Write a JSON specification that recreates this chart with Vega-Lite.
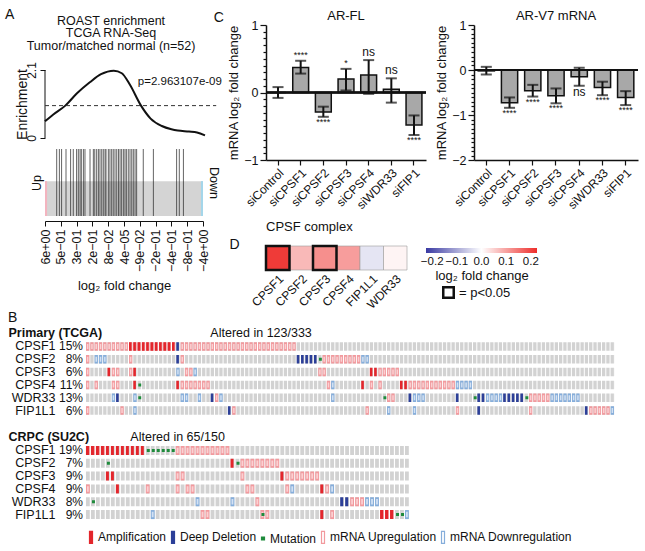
{
  "$schema": "https://vega.github.io/schema/vega-lite/v6.json",
  "background": "white",
  "padding": {"left": 5, "top": 7, "right": 0, "bottom": 0},
  "config": {
    "font": "Liberation Sans",
    "view": {"stroke": null},
    "axis": {"labelFont": "Liberation Sans", "titleFont": "Liberation Sans", "labelColor": "#111", "titleColor": "#111", "domainColor": "#111", "tickColor": "#111", "grid": false, "titleFontWeight": "normal", "labelFontSize": 12, "titleFontSize": 13},
    "title": {"font": "Liberation Sans", "fontWeight": "normal", "color": "#111"},
    "legend": {"labelFont": "Liberation Sans", "titleFont": "Liberation Sans", "labelColor": "#111", "titleColor": "#111", "titleFontWeight": "normal"},
    "text": {"font": "Liberation Sans", "color": "#111"}
  },
  "vconcat": [
    {
      "concat": [
        {
          "title": {"text": "A", "anchor": "start", "frame": "bounds", "fontSize": 14, "offset": -7, "dx": -10},
          "vconcat": [
            {
              "width": 160, "height": 113,
              "title": {"text": ["ROAST enrichment", "TCGA RNA-Seq", "Tumor/matched normal (n=52)"], "fontSize": 12.5, "lineHeight": 12.5, "anchor": "middle", "dx": -14, "offset": -27},
              "layer": [
                {
                  "data": {"values": [
                    {"rank": 0, "enrichment": 0.52}, {"rank": 0.5, "enrichment": 0.72}, {"rank": 1.27, "enrichment": 1.0},
                    {"rank": 2.0, "enrichment": 1.38}, {"rank": 2.8, "enrichment": 1.72}, {"rank": 3.5, "enrichment": 1.97},
                    {"rank": 4.3, "enrichment": 2.08}, {"rank": 4.8, "enrichment": 2.0}, {"rank": 5.3, "enrichment": 1.65},
                    {"rank": 6.0, "enrichment": 1.0}, {"rank": 6.6, "enrichment": 0.6}, {"rank": 7.3, "enrichment": 0.37},
                    {"rank": 7.9, "enrichment": 0.27}, {"rank": 8.3, "enrichment": 0.23}, {"rank": 9.0, "enrichment": 0.2},
                    {"rank": 9.5, "enrichment": 0.17}, {"rank": 10.0, "enrichment": 0.08}
                  ]},
                  "mark": {"type": "line", "color": "#111", "strokeWidth": 2, "interpolate": "monotone", "clip": false},
                  "encoding": {
                    "x": {"field": "rank", "type": "quantitative", "scale": {"domain": [0, 10]}, "axis": null},
                    "y": {"field": "enrichment", "type": "quantitative", "scale": {"domain": [0, 3.49]}, "axis": {"values": [0, 2.1], "format": ".1~f", "labelAngle": 270, "domain": false, "title": "Enrichment", "titleFontSize": 14, "tickSize": 5, "labelPadding": 2, "titleX": -23, "titleY": 79, "titleBaseline": "middle", "titleAlign": "center"}}
                  }
                },
                {
                  "data": {"values": [{"axisFrom": 0, "axisTo": 2.1}]},
                  "mark": {"type": "rule", "color": "#111", "strokeWidth": 1},
                  "encoding": {
                    "x": {"datum": 0, "type": "quantitative", "scale": {"domain": [0, 10]}, "axis": null},
                    "y": {"field": "axisFrom", "type": "quantitative", "scale": {"domain": [0, 3.49]}, "axis": {"values": [0, 2.1], "format": ".1~f", "labelAngle": 270, "domain": false, "title": "Enrichment", "titleFontSize": 14, "tickSize": 5, "labelPadding": 2, "titleX": -23, "titleY": 79, "titleBaseline": "middle", "titleAlign": "center"}},
                    "y2": {"field": "axisTo"}
                  }
                },
                {
                  "data": {"values": [{"threshold": 1}]},
                  "mark": {"type": "rule", "color": "#333", "strokeDash": [4, 3], "strokeWidth": 1, "clip": false},
                  "encoding": {
                    "x": {"datum": 0, "type": "quantitative", "scale": {"domain": [0, 10]}, "axis": null},
                    "x2": {"datum": 10.7},
                    "y": {"field": "threshold", "type": "quantitative", "scale": {"domain": [0, 3.49]}, "axis": {"values": [0, 2.1], "format": ".1~f", "labelAngle": 270, "domain": false, "title": "Enrichment", "titleFontSize": 14, "tickSize": 5, "labelPadding": 2, "titleX": -23, "titleY": 79, "titleBaseline": "middle", "titleAlign": "center"}}
                  }
                },
                {
                  "data": {"values": [{"label": "p=2.963107e-09", "rank": 5.8, "enrichment": 1.72}]},
                  "mark": {"type": "text", "align": "left", "fontSize": 11.5},
                  "encoding": {
                    "x": {"field": "rank", "type": "quantitative", "scale": {"domain": [0, 10]}, "axis": null},
                    "y": {"field": "enrichment", "type": "quantitative", "scale": {"domain": [0, 3.49]}, "axis": {"values": [0, 2.1], "format": ".1~f", "labelAngle": 270, "domain": false, "title": "Enrichment", "titleFontSize": 14, "tickSize": 5, "labelPadding": 2, "titleX": -23, "titleY": 79, "titleBaseline": "middle", "titleAlign": "center"}},
                    "text": {"field": "label"}
                  }
                }
              ]
            },
            {
              "width": 158, "height": 67,
              "layer": [
                {
                  "data": {"values": [{"part": "band", "start": 0, "end": 10}, {"part": "up", "start": 0, "end": 0.13}, {"part": "down", "start": 9.87, "end": 10}]},
                  "mark": {"type": "rect"},
                  "encoding": {
                    "x": {"field": "start", "type": "quantitative", "scale": {"domain": [0, 10]}, "axis": {"values": [0, 1, 2, 3, 4, 5, 6, 7, 8, 9, 10], "labelExpr": "['6e+00','5e−01','3e−01','2e−01','8e−02','4e−05','−9e−02','−2e−01','−4e−01','−8e−01','−4e+00'][datum.value]", "labelAngle": 270, "offset": 5, "tickSize": 5, "labelPadding": 3, "labelFlush": false, "labelFontSize": 12.5, "title": "log₂ fold change", "titleFontSize": 13, "titlePadding": 8}},
                    "x2": {"field": "end"},
                    "y": {"datum": 0, "type": "quantitative", "scale": {"domain": [0, 1]}, "axis": {"orient": "right", "title": "Down", "labels": false, "ticks": false, "domain": false, "titlePadding": 3, "titleFontSize": 12.5}},
                    "y2": {"datum": 0.52},
                    "color": {"field": "part", "type": "nominal", "scale": {"domain": ["band", "up", "down"], "range": ["#d4d4d4", "#f3b4bf", "#a4d6ea"]}, "legend": null}
                  }
                },
                {
                  "data": {"values": [
                    {"rank": 0.74}, {"rank": 0.91}, {"rank": 1.05}, {"rank": 1.33}, {"rank": 1.62}, {"rank": 1.79}, {"rank": 2.0},
                    {"rank": 2.11}, {"rank": 2.22}, {"rank": 2.3}, {"rank": 2.43}, {"rank": 2.53}, {"rank": 2.85}, {"rank": 3.06},
                    {"rank": 3.15}, {"rank": 3.27}, {"rank": 3.38}, {"rank": 3.48}, {"rank": 3.59}, {"rank": 3.69}, {"rank": 3.8},
                    {"rank": 3.86}, {"rank": 4.01}, {"rank": 4.11}, {"rank": 4.22}, {"rank": 4.32}, {"rank": 4.43}, {"rank": 4.54},
                    {"rank": 4.65}, {"rank": 4.75}, {"rank": 4.85}, {"rank": 4.96}, {"rank": 5.06}, {"rank": 5.15}, {"rank": 5.27},
                    {"rank": 5.38}, {"rank": 5.49}, {"rank": 5.59}, {"rank": 5.7}, {"rank": 5.8}, {"rank": 6.22}, {"rank": 6.86},
                    {"rank": 8.33}, {"rank": 8.5}, {"rank": 8.76}
                  ]},
                  "mark": {"type": "rule", "color": "#222", "opacity": 0.7, "strokeWidth": 1},
                  "encoding": {
                    "x": {"field": "rank", "type": "quantitative", "scale": {"domain": [0, 10]}, "axis": {"values": [0, 1, 2, 3, 4, 5, 6, 7, 8, 9, 10], "labelExpr": "['6e+00','5e−01','3e−01','2e−01','8e−02','4e−05','−9e−02','−2e−01','−4e−01','−8e−01','−4e+00'][datum.value]", "labelAngle": 270, "offset": 5, "tickSize": 5, "labelPadding": 3, "labelFlush": false, "labelFontSize": 12.5, "title": "log₂ fold change", "titleFontSize": 13, "titlePadding": 8}},
                    "y": {"datum": 0, "type": "quantitative", "scale": {"domain": [0, 1]}, "axis": {"orient": "left", "title": "Up", "labels": false, "ticks": false, "domain": false, "titlePadding": 2, "titleFontSize": 12.5}},
                    "y2": {"datum": 1}
                  }
                }
              ]
            }
          ],
          "spacing": 6
        },
        {
          "concat": [
            {
              "title": {"text": "C", "anchor": "start", "frame": "bounds", "fontSize": 14, "offset": -15, "dx": -14},
              "hconcat": [
                {
                  "width": 160, "height": 135,
                  "title": {"text": "AR-FL", "fontSize": 13, "offset": -4},
                  "data": {"values": [
                    {"sample": "siControl", "value": 0, "lo": -0.08, "hi": 0.08, "label": ""},
                    {"sample": "siCPSF1", "value": 0.37, "lo": 0.28, "hi": 0.47, "label": "****"},
                    {"sample": "siCPSF2", "value": -0.29, "lo": -0.36, "hi": -0.21, "label": "****"},
                    {"sample": "siCPSF3", "value": 0.2, "lo": 0.03, "hi": 0.35, "label": "*"},
                    {"sample": "siCPSF4", "value": 0.26, "lo": -0.02, "hi": 0.48, "label": "ns"},
                    {"sample": "siWDR33", "value": 0.05, "lo": -0.15, "hi": 0.21, "label": "ns"},
                    {"sample": "siFIP1", "value": -0.48, "lo": -0.63, "hi": -0.34, "label": "****"}
                  ]},
                  "layer": [
                    {
                      "mark": {"type": "bar", "color": "#a8a8a8", "stroke": "#111", "strokeWidth": 1.5},
                      "encoding": {
                        "x": {"field": "sample", "type": "nominal", "sort": null, "scale": {"paddingInner": 0.3, "paddingOuter": 0.18}, "axis": {"title": null, "labelAngle": -45, "tickSize": 5, "labelFontSize": 12, "labelPadding": 2, "domainWidth": 1.5, "tickWidth": 1.2}},
                        "y": {"field": "value", "type": "quantitative", "scale": {"domain": [-1, 1]}, "axis": {"values": [-1, -0.9, -0.8, -0.7, -0.6, -0.5, -0.4, -0.3, -0.2, -0.1, 0, 0.1, 0.2, 0.3, 0.4, 0.5, 0.6, 0.7, 0.8, 0.9, 1], "labelExpr": "abs(datum.value - round(datum.value)) < 0.01 ? format(datum.value, 'd') : ''", "tickSize": {"condition": {"test": "abs(datum.value - round(datum.value)) < 0.01", "value": 6}, "value": 3}, "title": "mRNA log₂ fold change", "titleFontSize": 13, "labelFontSize": 12.5, "domainWidth": 1.5, "tickWidth": 1.2, "labelPadding": 2, "titlePadding": 3}},
                        "y2": {"datum": 0}
                      }
                    },
                    {
                      "mark": {"type": "rule", "color": "#111", "strokeWidth": 2},
                      "encoding": {
                        "x": {"field": "sample", "type": "nominal", "sort": null, "scale": {"paddingInner": 0.3, "paddingOuter": 0.18}, "axis": {"title": null, "labelAngle": -45, "tickSize": 5, "labelFontSize": 12, "labelPadding": 2, "domainWidth": 1.5, "tickWidth": 1.2}},
                        "y": {"field": "lo", "type": "quantitative", "scale": {"domain": [-1, 1]}, "axis": {"values": [-1, -0.9, -0.8, -0.7, -0.6, -0.5, -0.4, -0.3, -0.2, -0.1, 0, 0.1, 0.2, 0.3, 0.4, 0.5, 0.6, 0.7, 0.8, 0.9, 1], "labelExpr": "abs(datum.value - round(datum.value)) < 0.01 ? format(datum.value, 'd') : ''", "tickSize": {"condition": {"test": "abs(datum.value - round(datum.value)) < 0.01", "value": 6}, "value": 3}, "title": "mRNA log₂ fold change", "titleFontSize": 13, "labelFontSize": 12.5, "domainWidth": 1.5, "tickWidth": 1.2, "labelPadding": 2, "titlePadding": 3}},
                        "y2": {"field": "hi"}
                      }
                    },
                    {
                      "mark": {"type": "tick", "color": "#111", "thickness": 2, "size": 11},
                      "encoding": {
                        "x": {"field": "sample", "type": "nominal", "sort": null, "scale": {"paddingInner": 0.3, "paddingOuter": 0.18}, "axis": {"title": null, "labelAngle": -45, "tickSize": 5, "labelFontSize": 12, "labelPadding": 2, "domainWidth": 1.5, "tickWidth": 1.2}},
                        "y": {"field": "lo", "type": "quantitative", "scale": {"domain": [-1, 1]}, "axis": {"values": [-1, -0.9, -0.8, -0.7, -0.6, -0.5, -0.4, -0.3, -0.2, -0.1, 0, 0.1, 0.2, 0.3, 0.4, 0.5, 0.6, 0.7, 0.8, 0.9, 1], "labelExpr": "abs(datum.value - round(datum.value)) < 0.01 ? format(datum.value, 'd') : ''", "tickSize": {"condition": {"test": "abs(datum.value - round(datum.value)) < 0.01", "value": 6}, "value": 3}, "title": "mRNA log₂ fold change", "titleFontSize": 13, "labelFontSize": 12.5, "domainWidth": 1.5, "tickWidth": 1.2, "labelPadding": 2, "titlePadding": 3}}
                      }
                    },
                    {
                      "mark": {"type": "tick", "color": "#111", "thickness": 2, "size": 11},
                      "encoding": {
                        "x": {"field": "sample", "type": "nominal", "sort": null, "scale": {"paddingInner": 0.3, "paddingOuter": 0.18}, "axis": {"title": null, "labelAngle": -45, "tickSize": 5, "labelFontSize": 12, "labelPadding": 2, "domainWidth": 1.5, "tickWidth": 1.2}},
                        "y": {"field": "hi", "type": "quantitative", "scale": {"domain": [-1, 1]}, "axis": {"values": [-1, -0.9, -0.8, -0.7, -0.6, -0.5, -0.4, -0.3, -0.2, -0.1, 0, 0.1, 0.2, 0.3, 0.4, 0.5, 0.6, 0.7, 0.8, 0.9, 1], "labelExpr": "abs(datum.value - round(datum.value)) < 0.01 ? format(datum.value, 'd') : ''", "tickSize": {"condition": {"test": "abs(datum.value - round(datum.value)) < 0.01", "value": 6}, "value": 3}, "title": "mRNA log₂ fold change", "titleFontSize": 13, "labelFontSize": 12.5, "domainWidth": 1.5, "tickWidth": 1.2, "labelPadding": 2, "titlePadding": 3}}
                      }
                    },
                    {
                      "mark": {"type": "rule", "color": "#111", "strokeWidth": 1.5},
                      "encoding": {
                        "y": {"datum": 0, "type": "quantitative", "scale": {"domain": [-1, 1]}, "axis": {"values": [-1, -0.9, -0.8, -0.7, -0.6, -0.5, -0.4, -0.3, -0.2, -0.1, 0, 0.1, 0.2, 0.3, 0.4, 0.5, 0.6, 0.7, 0.8, 0.9, 1], "labelExpr": "abs(datum.value - round(datum.value)) < 0.01 ? format(datum.value, 'd') : ''", "tickSize": {"condition": {"test": "abs(datum.value - round(datum.value)) < 0.01", "value": 6}, "value": 3}, "title": "mRNA log₂ fold change", "titleFontSize": 13, "labelFontSize": 12.5, "domainWidth": 1.5, "tickWidth": 1.2, "labelPadding": 2, "titlePadding": 3}}
                      }
                    },
                    {
                      "transform": [{"filter": "datum.value >= 0"}],
                      "mark": {"type": "text", "baseline": "bottom", "dy": -1},
                      "encoding": {
                        "x": {"field": "sample", "type": "nominal", "sort": null, "scale": {"paddingInner": 0.3, "paddingOuter": 0.18}, "axis": {"title": null, "labelAngle": -45, "tickSize": 5, "labelFontSize": 12, "labelPadding": 2, "domainWidth": 1.5, "tickWidth": 1.2}},
                        "y": {"field": "hi", "type": "quantitative", "scale": {"domain": [-1, 1]}, "axis": {"values": [-1, -0.9, -0.8, -0.7, -0.6, -0.5, -0.4, -0.3, -0.2, -0.1, 0, 0.1, 0.2, 0.3, 0.4, 0.5, 0.6, 0.7, 0.8, 0.9, 1], "labelExpr": "abs(datum.value - round(datum.value)) < 0.01 ? format(datum.value, 'd') : ''", "tickSize": {"condition": {"test": "abs(datum.value - round(datum.value)) < 0.01", "value": 6}, "value": 3}, "title": "mRNA log₂ fold change", "titleFontSize": 13, "labelFontSize": 12.5, "domainWidth": 1.5, "tickWidth": 1.2, "labelPadding": 2, "titlePadding": 3}},
                        "text": {"field": "label"},
                        "size": {"condition": {"test": "datum.label == 'ns'", "value": 12}, "value": 9}
                      }
                    },
                    {
                      "transform": [{"filter": "datum.value < 0"}],
                      "mark": {"type": "text", "baseline": "top", "dy": 1},
                      "encoding": {
                        "x": {"field": "sample", "type": "nominal", "sort": null, "scale": {"paddingInner": 0.3, "paddingOuter": 0.18}, "axis": {"title": null, "labelAngle": -45, "tickSize": 5, "labelFontSize": 12, "labelPadding": 2, "domainWidth": 1.5, "tickWidth": 1.2}},
                        "y": {"field": "lo", "type": "quantitative", "scale": {"domain": [-1, 1]}, "axis": {"values": [-1, -0.9, -0.8, -0.7, -0.6, -0.5, -0.4, -0.3, -0.2, -0.1, 0, 0.1, 0.2, 0.3, 0.4, 0.5, 0.6, 0.7, 0.8, 0.9, 1], "labelExpr": "abs(datum.value - round(datum.value)) < 0.01 ? format(datum.value, 'd') : ''", "tickSize": {"condition": {"test": "abs(datum.value - round(datum.value)) < 0.01", "value": 6}, "value": 3}, "title": "mRNA log₂ fold change", "titleFontSize": 13, "labelFontSize": 12.5, "domainWidth": 1.5, "tickWidth": 1.2, "labelPadding": 2, "titlePadding": 3}},
                        "text": {"field": "label"},
                        "size": {"condition": {"test": "datum.label == 'ns'", "value": 12}, "value": 9}
                      }
                    }
                  ]
                },
                {
                  "width": 164, "height": 135,
                  "title": {"text": "AR-V7 mRNA", "fontSize": 13, "offset": -4},
                  "data": {"values": [
                    {"sample": "siControl", "value": -0.02, "lo": -0.1, "hi": 0.07, "label": ""},
                    {"sample": "siCPSF1", "value": -0.73, "lo": -0.84, "hi": -0.61, "label": "****"},
                    {"sample": "siCPSF2", "value": -0.46, "lo": -0.59, "hi": -0.33, "label": "****"},
                    {"sample": "siCPSF3", "value": -0.57, "lo": -0.74, "hi": -0.41, "label": "****"},
                    {"sample": "siCPSF4", "value": -0.15, "lo": -0.35, "hi": 0.05, "label": "ns"},
                    {"sample": "siWDR33", "value": -0.39, "lo": -0.56, "hi": -0.26, "label": "****"},
                    {"sample": "siFIP1", "value": -0.61, "lo": -0.78, "hi": -0.47, "label": "****"}
                  ]},
                  "layer": [
                    {
                      "mark": {"type": "bar", "color": "#a8a8a8", "stroke": "#111", "strokeWidth": 1.5},
                      "encoding": {
                        "x": {"field": "sample", "type": "nominal", "sort": null, "scale": {"paddingInner": 0.3, "paddingOuter": 0.18}, "axis": {"title": null, "labelAngle": -45, "tickSize": 5, "labelFontSize": 12, "labelPadding": 2, "domainWidth": 1.5, "tickWidth": 1.2}},
                        "y": {"field": "value", "type": "quantitative", "scale": {"domain": [-2, 1]}, "axis": {"values": [-2, -1.9, -1.8, -1.7, -1.6, -1.5, -1.4, -1.3, -1.2, -1.1, -1, -0.9, -0.8, -0.7, -0.6, -0.5, -0.4, -0.3, -0.2, -0.1, 0, 0.1, 0.2, 0.3, 0.4, 0.5, 0.6, 0.7, 0.8, 0.9, 1], "labelExpr": "abs(datum.value - round(datum.value)) < 0.01 ? format(datum.value, 'd') : ''", "tickSize": {"condition": {"test": "abs(datum.value - round(datum.value)) < 0.01", "value": 6}, "value": 3}, "title": "mRNA log₂ fold change", "titleFontSize": 13, "labelFontSize": 12.5, "domainWidth": 1.5, "tickWidth": 1.2, "labelPadding": 2, "titlePadding": 3}},
                        "y2": {"datum": 0}
                      }
                    },
                    {
                      "mark": {"type": "rule", "color": "#111", "strokeWidth": 2},
                      "encoding": {
                        "x": {"field": "sample", "type": "nominal", "sort": null, "scale": {"paddingInner": 0.3, "paddingOuter": 0.18}, "axis": {"title": null, "labelAngle": -45, "tickSize": 5, "labelFontSize": 12, "labelPadding": 2, "domainWidth": 1.5, "tickWidth": 1.2}},
                        "y": {"field": "lo", "type": "quantitative", "scale": {"domain": [-2, 1]}, "axis": {"values": [-2, -1.9, -1.8, -1.7, -1.6, -1.5, -1.4, -1.3, -1.2, -1.1, -1, -0.9, -0.8, -0.7, -0.6, -0.5, -0.4, -0.3, -0.2, -0.1, 0, 0.1, 0.2, 0.3, 0.4, 0.5, 0.6, 0.7, 0.8, 0.9, 1], "labelExpr": "abs(datum.value - round(datum.value)) < 0.01 ? format(datum.value, 'd') : ''", "tickSize": {"condition": {"test": "abs(datum.value - round(datum.value)) < 0.01", "value": 6}, "value": 3}, "title": "mRNA log₂ fold change", "titleFontSize": 13, "labelFontSize": 12.5, "domainWidth": 1.5, "tickWidth": 1.2, "labelPadding": 2, "titlePadding": 3}},
                        "y2": {"field": "hi"}
                      }
                    },
                    {
                      "mark": {"type": "tick", "color": "#111", "thickness": 2, "size": 11},
                      "encoding": {
                        "x": {"field": "sample", "type": "nominal", "sort": null, "scale": {"paddingInner": 0.3, "paddingOuter": 0.18}, "axis": {"title": null, "labelAngle": -45, "tickSize": 5, "labelFontSize": 12, "labelPadding": 2, "domainWidth": 1.5, "tickWidth": 1.2}},
                        "y": {"field": "lo", "type": "quantitative", "scale": {"domain": [-2, 1]}, "axis": {"values": [-2, -1.9, -1.8, -1.7, -1.6, -1.5, -1.4, -1.3, -1.2, -1.1, -1, -0.9, -0.8, -0.7, -0.6, -0.5, -0.4, -0.3, -0.2, -0.1, 0, 0.1, 0.2, 0.3, 0.4, 0.5, 0.6, 0.7, 0.8, 0.9, 1], "labelExpr": "abs(datum.value - round(datum.value)) < 0.01 ? format(datum.value, 'd') : ''", "tickSize": {"condition": {"test": "abs(datum.value - round(datum.value)) < 0.01", "value": 6}, "value": 3}, "title": "mRNA log₂ fold change", "titleFontSize": 13, "labelFontSize": 12.5, "domainWidth": 1.5, "tickWidth": 1.2, "labelPadding": 2, "titlePadding": 3}}
                      }
                    },
                    {
                      "mark": {"type": "tick", "color": "#111", "thickness": 2, "size": 11},
                      "encoding": {
                        "x": {"field": "sample", "type": "nominal", "sort": null, "scale": {"paddingInner": 0.3, "paddingOuter": 0.18}, "axis": {"title": null, "labelAngle": -45, "tickSize": 5, "labelFontSize": 12, "labelPadding": 2, "domainWidth": 1.5, "tickWidth": 1.2}},
                        "y": {"field": "hi", "type": "quantitative", "scale": {"domain": [-2, 1]}, "axis": {"values": [-2, -1.9, -1.8, -1.7, -1.6, -1.5, -1.4, -1.3, -1.2, -1.1, -1, -0.9, -0.8, -0.7, -0.6, -0.5, -0.4, -0.3, -0.2, -0.1, 0, 0.1, 0.2, 0.3, 0.4, 0.5, 0.6, 0.7, 0.8, 0.9, 1], "labelExpr": "abs(datum.value - round(datum.value)) < 0.01 ? format(datum.value, 'd') : ''", "tickSize": {"condition": {"test": "abs(datum.value - round(datum.value)) < 0.01", "value": 6}, "value": 3}, "title": "mRNA log₂ fold change", "titleFontSize": 13, "labelFontSize": 12.5, "domainWidth": 1.5, "tickWidth": 1.2, "labelPadding": 2, "titlePadding": 3}}
                      }
                    },
                    {
                      "mark": {"type": "rule", "color": "#111", "strokeWidth": 1.5},
                      "encoding": {
                        "y": {"datum": 0, "type": "quantitative", "scale": {"domain": [-2, 1]}, "axis": {"values": [-2, -1.9, -1.8, -1.7, -1.6, -1.5, -1.4, -1.3, -1.2, -1.1, -1, -0.9, -0.8, -0.7, -0.6, -0.5, -0.4, -0.3, -0.2, -0.1, 0, 0.1, 0.2, 0.3, 0.4, 0.5, 0.6, 0.7, 0.8, 0.9, 1], "labelExpr": "abs(datum.value - round(datum.value)) < 0.01 ? format(datum.value, 'd') : ''", "tickSize": {"condition": {"test": "abs(datum.value - round(datum.value)) < 0.01", "value": 6}, "value": 3}, "title": "mRNA log₂ fold change", "titleFontSize": 13, "labelFontSize": 12.5, "domainWidth": 1.5, "tickWidth": 1.2, "labelPadding": 2, "titlePadding": 3}}
                      }
                    },
                    {
                      "transform": [{"filter": "datum.value < 0"}],
                      "mark": {"type": "text", "baseline": "top", "dy": 1},
                      "encoding": {
                        "x": {"field": "sample", "type": "nominal", "sort": null, "scale": {"paddingInner": 0.3, "paddingOuter": 0.18}, "axis": {"title": null, "labelAngle": -45, "tickSize": 5, "labelFontSize": 12, "labelPadding": 2, "domainWidth": 1.5, "tickWidth": 1.2}},
                        "y": {"field": "lo", "type": "quantitative", "scale": {"domain": [-2, 1]}, "axis": {"values": [-2, -1.9, -1.8, -1.7, -1.6, -1.5, -1.4, -1.3, -1.2, -1.1, -1, -0.9, -0.8, -0.7, -0.6, -0.5, -0.4, -0.3, -0.2, -0.1, 0, 0.1, 0.2, 0.3, 0.4, 0.5, 0.6, 0.7, 0.8, 0.9, 1], "labelExpr": "abs(datum.value - round(datum.value)) < 0.01 ? format(datum.value, 'd') : ''", "tickSize": {"condition": {"test": "abs(datum.value - round(datum.value)) < 0.01", "value": 6}, "value": 3}, "title": "mRNA log₂ fold change", "titleFontSize": 13, "labelFontSize": 12.5, "domainWidth": 1.5, "tickWidth": 1.2, "labelPadding": 2, "titlePadding": 3}},
                        "text": {"field": "label"},
                        "size": {"condition": {"test": "datum.label == 'ns'", "value": 12}, "value": 9}
                      }
                    }
                  ]
                }
              ],
              "spacing": 8
            },
            {
              "width": 141, "height": 24,
              "title": {"text": "CPSF complex", "anchor": "start", "frame": "group", "fontSize": 13, "offset": 3},
              "data": {"values": [
                {"complex": "CPSF", "gene": "CPSF1", "fc": 0.21, "p": "p<0.05"},
                {"complex": "CPSF", "gene": "CPSF2", "fc": 0.075},
                {"complex": "CPSF", "gene": "CPSF3", "fc": 0.12, "p": "p<0.05"},
                {"complex": "CPSF", "gene": "CPSF4", "fc": 0.105},
                {"complex": "CPSF", "gene": "FIP1L1", "fc": -0.03},
                {"complex": "CPSF", "gene": "WDR33", "fc": 0.012}
              ]},
              "encoding": {
                "x": {"field": "gene", "type": "nominal", "sort": null, "scale": {"paddingInner": 0, "paddingOuter": 0}, "axis": {"title": null, "labelAngle": -45, "ticks": false, "domain": false, "labelFontSize": 12, "labelPadding": 3}},
                "y": {"field": "complex", "type": "nominal", "scale": {"paddingInner": 0, "paddingOuter": 0}, "axis": {"title": "D", "labels": false, "ticks": false, "domain": false, "titleAngle": 0, "titleFontSize": 14, "titleX": -32, "titleY": -2, "titleAlign": "center", "titleBaseline": "middle"}}
              },
              "layer": [
                {
                  "mark": {"type": "rect", "stroke": "#9a9a9a", "strokeWidth": 0.6},
                  "encoding": {
                    "color": {"field": "fc", "type": "quantitative", "scale": {"domain": [-0.225, 0, 0.225], "range": ["#3a3aa3", "#ffffff", "#ee2d2a"], "interpolate": "rgb"},
                      "legend": {"orient": "none", "legendX": 160, "legendY": 2, "direction": "horizontal", "gradientLength": 111, "gradientThickness": 5, "gradientStrokeWidth": 0, "values": [-0.2, -0.1, 0, 0.1, 0.2], "format": ".1f", "labelFontSize": 11.5, "labelOffset": 3, "title": "log₂ fold change", "titleOrient": "bottom", "titleFontSize": 13, "titleAnchor": "middle", "titlePadding": 2}}
                  }
                },
                {
                  "transform": [{"filter": "datum.p != null"}],
                  "mark": {"type": "rect", "filled": false, "strokeWidth": 2.5},
                  "encoding": {
                    "stroke": {"field": "p", "type": "nominal", "scale": {"domain": ["p<0.05"], "range": ["#111"]},
                      "legend": {"orient": "none", "legendX": 176, "legendY": 40, "title": null, "symbolType": "square", "symbolSize": 110, "symbolStrokeWidth": 2.5, "symbolFillColor": "white", "labelFontSize": 13, "labelOffset": 4, "labelExpr": "'= ' + datum.label"}}
                  }
                }
              ]
            }
          ],
          "columns": 1,
          "align": "none",
          "spacing": 10,
          "resolve": {"scale": {"color": "independent", "stroke": "independent"}}
        }
      ],
      "columns": 2,
      "align": "none",
      "spacing": -9,
      "resolve": {"scale": {"color": "independent", "stroke": "independent"}}
    },
    {
      "concat": [
        {
          "width": 570, "height": 77,
          "title": {"text": "B", "anchor": "start", "frame": "bounds", "fontSize": 14, "offset": 1},
          "encoding": {
            "y": {"field": "gene", "type": "nominal", "sort": ["CPSF1", "CPSF2", "CPSF3", "CPSF4", "WDR33", "FIP1L1"], "scale": {"paddingInner": 0.34, "paddingOuter": 0.17}, "axis": {"title": null, "ticks": false, "domain": false, "labelPadding": -10, "labelFontSize": 12.5}},
            "x": {"field": "start", "type": "quantitative", "scale": {"domain": [-9.53, 123]}, "axis": {"orient": "top", "values": [28.8], "labelExpr": "'Altered in 123/333'", "ticks": false, "domain": false, "labelAlign": "left", "labelBaseline": "alphabetic", "labelFontSize": 12.5, "labelPadding": 4, "labelFlush": false, "title": "Primary (TCGA)", "titleFontWeight": "bold", "titleFontSize": 12.5, "titleX": -37, "titleY": -4, "titleAlign": "left", "titleBaseline": "alphabetic", "titleAnchor": "start"}},
            "x2": {"field": "end"}
          },
          "layer": [
            {
              "data": {"name": "tcgaGenes", "values": [
                {"gene": "CPSF1", "pct": "15%", "start": 0, "end": 123}, {"gene": "CPSF2", "pct": "8%", "start": 0, "end": 123}, {"gene": "CPSF3", "pct": "6%", "start": 0, "end": 123},
                {"gene": "CPSF4", "pct": "11%", "start": 0, "end": 123}, {"gene": "WDR33", "pct": "13%", "start": 0, "end": 123}, {"gene": "FIP1L1", "pct": "6%", "start": 0, "end": 123}
              ]},
              "mark": {"type": "rule", "color": "#d2d2d2", "strokeWidth": 8.5, "strokeDash": [3.3, 1.0]}
            },
            {
              "data": {"name": "tcgaGenes"},
              "mark": {"type": "text", "align": "right", "dx": -3, "fontSize": 12},
              "encoding": {"text": {"field": "pct"}}
            },
            {
              "data": {"name": "tcgaSegs", "values": [
                {"gene": "CPSF1", "type": "mRNA Upregulation", "start": 0, "end": 21},
                {"gene": "CPSF1", "type": "Amplification", "start": 10, "end": 21},
                {"gene": "CPSF1", "type": "Deep Deletion", "start": 21, "end": 22},
                {"gene": "CPSF1", "type": "mRNA Upregulation", "start": 22, "end": 49},
                {"gene": "CPSF2", "type": "mRNA Upregulation", "start": 0, "end": 1},
                {"gene": "CPSF2", "type": "mRNA Downregulation", "start": 2, "end": 5},
                {"gene": "CPSF2", "type": "mRNA Upregulation", "start": 10, "end": 11},
                {"gene": "CPSF2", "type": "Deep Deletion", "start": 21, "end": 22},
                {"gene": "CPSF2", "type": "mRNA Upregulation", "start": 22, "end": 23},
                {"gene": "CPSF2", "type": "Deep Deletion", "start": 49, "end": 54},
                {"gene": "CPSF2", "type": "Mutation", "start": 54, "end": 55},
                {"gene": "CPSF2", "type": "mRNA Upregulation", "start": 55, "end": 64},
                {"gene": "CPSF2", "type": "mRNA Downregulation", "start": 64, "end": 66},
                {"gene": "CPSF3", "type": "mRNA Upregulation", "start": 0, "end": 1},
                {"gene": "CPSF3", "type": "Amplification", "start": 5, "end": 6},
                {"gene": "CPSF3", "type": "mRNA Upregulation", "start": 6, "end": 8},
                {"gene": "CPSF3", "type": "mRNA Upregulation", "start": 10, "end": 11},
                {"gene": "CPSF3", "type": "Amplification", "start": 11, "end": 12},
                {"gene": "CPSF3", "type": "mRNA Downregulation", "start": 21, "end": 22},
                {"gene": "CPSF3", "type": "mRNA Upregulation", "start": 23, "end": 25},
                {"gene": "CPSF3", "type": "mRNA Downregulation", "start": 25, "end": 26},
                {"gene": "CPSF3", "type": "mRNA Upregulation", "start": 54, "end": 56},
                {"gene": "CPSF3", "type": "Amplification", "start": 66, "end": 68},
                {"gene": "CPSF3", "type": "mRNA Upregulation", "start": 68, "end": 73},
                {"gene": "CPSF4", "type": "mRNA Upregulation", "start": 0, "end": 1},
                {"gene": "CPSF4", "type": "mRNA Upregulation", "start": 2, "end": 3},
                {"gene": "CPSF4", "type": "mRNA Upregulation", "start": 6, "end": 8},
                {"gene": "CPSF4", "type": "Amplification", "start": 11, "end": 12},
                {"gene": "CPSF4", "type": "Mutation", "start": 12, "end": 13},
                {"gene": "CPSF4", "type": "Amplification", "start": 21, "end": 22},
                {"gene": "CPSF4", "type": "mRNA Upregulation", "start": 22, "end": 29},
                {"gene": "CPSF4", "type": "mRNA Upregulation", "start": 56, "end": 57},
                {"gene": "CPSF4", "type": "mRNA Downregulation", "start": 57, "end": 58},
                {"gene": "CPSF4", "type": "Amplification", "start": 64, "end": 65},
                {"gene": "CPSF4", "type": "mRNA Upregulation", "start": 66, "end": 67},
                {"gene": "CPSF4", "type": "mRNA Upregulation", "start": 68, "end": 69},
                {"gene": "CPSF4", "type": "Amplification", "start": 73, "end": 75},
                {"gene": "CPSF4", "type": "mRNA Upregulation", "start": 75, "end": 86},
                {"gene": "CPSF4", "type": "mRNA Downregulation", "start": 86, "end": 90},
                {"gene": "WDR33", "type": "mRNA Downregulation", "start": 6, "end": 7},
                {"gene": "WDR33", "type": "Deep Deletion", "start": 7, "end": 8},
                {"gene": "WDR33", "type": "mRNA Downregulation", "start": 11, "end": 12},
                {"gene": "WDR33", "type": "Mutation", "start": 12, "end": 13},
                {"gene": "WDR33", "type": "mRNA Downregulation", "start": 22, "end": 24},
                {"gene": "WDR33", "type": "mRNA Downregulation", "start": 26, "end": 27},
                {"gene": "WDR33", "type": "Deep Deletion", "start": 29, "end": 30},
                {"gene": "WDR33", "type": "mRNA Upregulation", "start": 30, "end": 31},
                {"gene": "WDR33", "type": "mRNA Downregulation", "start": 31, "end": 32},
                {"gene": "WDR33", "type": "mRNA Downregulation", "start": 57, "end": 58},
                {"gene": "WDR33", "type": "Mutation", "start": 69, "end": 70},
                {"gene": "WDR33", "type": "mRNA Upregulation", "start": 70, "end": 72},
                {"gene": "WDR33", "type": "Deep Deletion", "start": 75, "end": 76},
                {"gene": "WDR33", "type": "mRNA Downregulation", "start": 76, "end": 79},
                {"gene": "WDR33", "type": "Deep Deletion", "start": 86, "end": 87},
                {"gene": "WDR33", "type": "Mutation", "start": 90, "end": 91},
                {"gene": "WDR33", "type": "Deep Deletion", "start": 91, "end": 93},
                {"gene": "WDR33", "type": "mRNA Downregulation", "start": 93, "end": 97},
                {"gene": "WDR33", "type": "Deep Deletion", "start": 97, "end": 102},
                {"gene": "WDR33", "type": "Mutation", "start": 102, "end": 103},
                {"gene": "WDR33", "type": "mRNA Upregulation", "start": 103, "end": 108},
                {"gene": "WDR33", "type": "mRNA Downregulation", "start": 108, "end": 115},
                {"gene": "FIP1L1", "type": "mRNA Upregulation", "start": 0, "end": 1},
                {"gene": "FIP1L1", "type": "mRNA Upregulation", "start": 8, "end": 9},
                {"gene": "FIP1L1", "type": "mRNA Downregulation", "start": 11, "end": 12},
                {"gene": "FIP1L1", "type": "Deep Deletion", "start": 33, "end": 34},
                {"gene": "FIP1L1", "type": "mRNA Upregulation", "start": 34, "end": 35},
                {"gene": "FIP1L1", "type": "mRNA Upregulation", "start": 65, "end": 66},
                {"gene": "FIP1L1", "type": "mRNA Downregulation", "start": 70, "end": 71},
                {"gene": "FIP1L1", "type": "mRNA Downregulation", "start": 76, "end": 77},
                {"gene": "FIP1L1", "type": "mRNA Upregulation", "start": 86, "end": 87},
                {"gene": "FIP1L1", "type": "Deep Deletion", "start": 91, "end": 92},
                {"gene": "FIP1L1", "type": "mRNA Upregulation", "start": 103, "end": 104},
                {"gene": "FIP1L1", "type": "Deep Deletion", "start": 116, "end": 117},
                {"gene": "FIP1L1", "type": "mRNA Upregulation", "start": 117, "end": 122},
                {"gene": "FIP1L1", "type": "mRNA Downregulation", "start": 122, "end": 123}
              ]},
              "transform": [{"filter": "datum.type == 'mRNA Upregulation' || datum.type == 'mRNA Downregulation'"}],
              "mark": {"type": "rule", "strokeWidth": 8.5, "strokeDash": [3.3, 1.0]},
              "encoding": {
                "color": {"field": "type", "type": "nominal", "scale": {"domain": ["Amplification", "Deep Deletion", "Mutation", "mRNA Upregulation", "mRNA Downregulation"], "range": ["#e3262c", "#2c3f98", "#1f8b3c", "#f29a9e", "#86aedb"]}, "legend": null}
              }
            },
            {
              "data": {"name": "tcgaSegs"},
              "transform": [{"filter": "datum.type == 'mRNA Upregulation'"}],
              "mark": {"type": "rule", "strokeWidth": 5, "strokeDash": [0, 0.9, 1.5, 1.9], "color": "#fbd0d2"}
            },
            {
              "data": {"name": "tcgaSegs"},
              "transform": [{"filter": "datum.type == 'mRNA Downregulation'"}],
              "mark": {"type": "rule", "strokeWidth": 5, "strokeDash": [0, 0.9, 1.5, 1.9], "color": "#d3e1f3"}
            },
            {
              "data": {"name": "tcgaSegs"},
              "transform": [{"filter": "datum.type == 'Amplification' || datum.type == 'Deep Deletion'"}],
              "mark": {"type": "rule", "strokeWidth": 8.5, "strokeDash": [2.6, 1.7]},
              "encoding": {
                "color": {"field": "type", "type": "nominal", "scale": {"domain": ["Amplification", "Deep Deletion", "Mutation", "mRNA Upregulation", "mRNA Downregulation"], "range": ["#e3262c", "#2c3f98", "#1f8b3c", "#f29a9e", "#86aedb"]}, "legend": null}
              }
            },
            {
              "data": {"name": "tcgaSegs"},
              "transform": [{"filter": "datum.type == 'Mutation'"}],
              "mark": {"type": "rule", "strokeWidth": 3, "strokeDash": [0, 0.7, 2.9, 0.7]},
              "encoding": {
                "color": {"field": "type", "type": "nominal", "scale": {"domain": ["Amplification", "Deep Deletion", "Mutation", "mRNA Upregulation", "mRNA Downregulation"], "range": ["#e3262c", "#2c3f98", "#1f8b3c", "#f29a9e", "#86aedb"]}, "legend": null}
              }
            }
          ]
        },
        {
          "width": 365, "height": 77,
          "encoding": {
            "y": {"field": "gene", "type": "nominal", "sort": ["CPSF1", "CPSF2", "CPSF3", "CPSF4", "WDR33", "FIP1L1"], "scale": {"paddingInner": 0.3, "paddingOuter": 0.15}, "axis": {"title": null, "ticks": false, "domain": false, "labelPadding": -10, "labelFontSize": 12.5}},
            "x": {"field": "start", "type": "quantitative", "scale": {"domain": [-8.22, 65]}, "axis": {"orient": "top", "values": [8.8], "labelExpr": "'Altered in 65/150'", "ticks": false, "domain": false, "labelAlign": "left", "labelBaseline": "alphabetic", "labelFontSize": 12.5, "labelPadding": 4, "labelFlush": false, "title": "CRPC (SU2C)", "titleFontWeight": "bold", "titleFontSize": 12.5, "titleX": -37, "titleY": -4, "titleAlign": "left", "titleBaseline": "alphabetic", "titleAnchor": "start"}},
            "x2": {"field": "end"}
          },
          "layer": [
            {
              "data": {"name": "crpcGenes", "values": [
                {"gene": "CPSF1", "pct": "19%", "start": 0, "end": 65}, {"gene": "CPSF2", "pct": "7%", "start": 0, "end": 65}, {"gene": "CPSF3", "pct": "9%", "start": 0, "end": 65},
                {"gene": "CPSF4", "pct": "9%", "start": 0, "end": 65}, {"gene": "WDR33", "pct": "8%", "start": 0, "end": 65}, {"gene": "FIP1L1", "pct": "9%", "start": 0, "end": 65}
              ]},
              "mark": {"type": "rule", "color": "#d2d2d2", "strokeWidth": 9, "strokeDash": [3.8, 1.185]}
            },
            {
              "data": {"name": "crpcGenes"},
              "mark": {"type": "text", "align": "right", "dx": -3, "fontSize": 12},
              "encoding": {"text": {"field": "pct"}}
            },
            {
              "data": {"name": "crpcSegs", "values": [
                {"gene": "CPSF1", "type": "mRNA Upregulation", "start": 0, "end": 4},
                {"gene": "CPSF1", "type": "Amplification", "start": 0, "end": 12},
                {"gene": "CPSF1", "type": "Mutation", "start": 12, "end": 18},
                {"gene": "CPSF1", "type": "mRNA Upregulation", "start": 18, "end": 29},
                {"gene": "CPSF2", "type": "Mutation", "start": 4, "end": 5},
                {"gene": "CPSF2", "type": "Amplification", "start": 29, "end": 30},
                {"gene": "CPSF2", "type": "Mutation", "start": 30, "end": 31},
                {"gene": "CPSF2", "type": "mRNA Upregulation", "start": 31, "end": 39},
                {"gene": "CPSF3", "type": "Amplification", "start": 4, "end": 6},
                {"gene": "CPSF3", "type": "mRNA Upregulation", "start": 18, "end": 20},
                {"gene": "CPSF3", "type": "mRNA Upregulation", "start": 31, "end": 32},
                {"gene": "CPSF3", "type": "Amplification", "start": 39, "end": 40},
                {"gene": "CPSF3", "type": "mRNA Upregulation", "start": 40, "end": 47},
                {"gene": "CPSF4", "type": "mRNA Upregulation", "start": 0, "end": 1},
                {"gene": "CPSF4", "type": "Amplification", "start": 6, "end": 7},
                {"gene": "CPSF4", "type": "mRNA Upregulation", "start": 12, "end": 13},
                {"gene": "CPSF4", "type": "mRNA Upregulation", "start": 18, "end": 19},
                {"gene": "CPSF4", "type": "mRNA Upregulation", "start": 20, "end": 22},
                {"gene": "CPSF4", "type": "mRNA Upregulation", "start": 32, "end": 34},
                {"gene": "CPSF4", "type": "mRNA Upregulation", "start": 40, "end": 41},
                {"gene": "CPSF4", "type": "mRNA Downregulation", "start": 41, "end": 42},
                {"gene": "CPSF4", "type": "Amplification", "start": 47, "end": 48},
                {"gene": "CPSF4", "type": "mRNA Upregulation", "start": 48, "end": 49},
                {"gene": "CPSF4", "type": "mRNA Downregulation", "start": 49, "end": 50},
                {"gene": "WDR33", "type": "Mutation", "start": 1, "end": 2},
                {"gene": "WDR33", "type": "mRNA Downregulation", "start": 22, "end": 23},
                {"gene": "WDR33", "type": "mRNA Downregulation", "start": 29, "end": 30},
                {"gene": "WDR33", "type": "mRNA Upregulation", "start": 34, "end": 35},
                {"gene": "WDR33", "type": "Deep Deletion", "start": 51, "end": 53},
                {"gene": "WDR33", "type": "mRNA Upregulation", "start": 53, "end": 56},
                {"gene": "WDR33", "type": "mRNA Downregulation", "start": 56, "end": 59},
                {"gene": "FIP1L1", "type": "mRNA Downregulation", "start": 13, "end": 14},
                {"gene": "FIP1L1", "type": "mRNA Upregulation", "start": 23, "end": 25},
                {"gene": "FIP1L1", "type": "mRNA Upregulation", "start": 35, "end": 37},
                {"gene": "FIP1L1", "type": "Mutation", "start": 35, "end": 36},
                {"gene": "FIP1L1", "type": "Amplification", "start": 47, "end": 48},
                {"gene": "FIP1L1", "type": "mRNA Upregulation", "start": 49, "end": 50},
                {"gene": "FIP1L1", "type": "mRNA Upregulation", "start": 59, "end": 62},
                {"gene": "FIP1L1", "type": "Amplification", "start": 59, "end": 62},
                {"gene": "FIP1L1", "type": "Mutation", "start": 62, "end": 64},
                {"gene": "FIP1L1", "type": "mRNA Downregulation", "start": 64, "end": 65}
              ]},
              "transform": [{"filter": "datum.type == 'mRNA Upregulation' || datum.type == 'mRNA Downregulation'"}],
              "mark": {"type": "rule", "strokeWidth": 9, "strokeDash": [3.8, 1.185]},
              "encoding": {
                "color": {"field": "type", "type": "nominal", "scale": {"domain": ["Amplification", "Deep Deletion", "Mutation", "mRNA Upregulation", "mRNA Downregulation"], "range": ["#e3262c", "#2c3f98", "#1f8b3c", "#f29a9e", "#86aedb"]},
                  "legend": {"orient": "none", "legendX": 40, "legendY": 87, "direction": "horizontal", "title": null, "labelFontSize": 12, "columnPadding": 0, "labelOffset": 1, "symbolSize": 36,
                    "encode": {"symbols": {"update": {
                      "shape": {"signal": "datum.value == 'Mutation' ? 'M-0.5,-0.5H0.5V0.5H-0.5Z' : 'M-0.5,-2H0.5V2H-0.5Z'"},
                      "fill": {"signal": "datum.value == 'Amplification' ? '#e3262c' : datum.value == 'Deep Deletion' ? '#2c3f98' : datum.value == 'Mutation' ? '#1f8b3c' : 'white'"},
                      "stroke": {"signal": "datum.value == 'mRNA Upregulation' ? '#f08a8e' : datum.value == 'mRNA Downregulation' ? '#6f9bd3' : 'transparent'"},
                      "strokeWidth": {"value": 1.2},
                      "opacity": {"value": 1}
                    }}}}}
              }
            },
            {
              "data": {"name": "crpcSegs"},
              "transform": [{"filter": "datum.type == 'mRNA Upregulation'"}],
              "mark": {"type": "rule", "strokeWidth": 5.5, "strokeDash": [0, 1.0, 1.8, 2.185], "color": "#fbd0d2"}
            },
            {
              "data": {"name": "crpcSegs"},
              "transform": [{"filter": "datum.type == 'mRNA Downregulation'"}],
              "mark": {"type": "rule", "strokeWidth": 5.5, "strokeDash": [0, 1.0, 1.8, 2.185], "color": "#d3e1f3"}
            },
            {
              "data": {"name": "crpcSegs"},
              "transform": [{"filter": "datum.type == 'Amplification' || datum.type == 'Deep Deletion'"}],
              "mark": {"type": "rule", "strokeWidth": 9, "strokeDash": [3.0, 1.985]},
              "encoding": {
                "color": {"field": "type", "type": "nominal", "scale": {"domain": ["Amplification", "Deep Deletion", "Mutation", "mRNA Upregulation", "mRNA Downregulation"], "range": ["#e3262c", "#2c3f98", "#1f8b3c", "#f29a9e", "#86aedb"]}, "legend": null}
              }
            },
            {
              "data": {"name": "crpcSegs"},
              "transform": [{"filter": "datum.type == 'Mutation'"}],
              "mark": {"type": "rule", "strokeWidth": 3, "strokeDash": [0, 1.0, 3.0, 0.985]},
              "encoding": {
                "color": {"field": "type", "type": "nominal", "scale": {"domain": ["Amplification", "Deep Deletion", "Mutation", "mRNA Upregulation", "mRNA Downregulation"], "range": ["#e3262c", "#2c3f98", "#1f8b3c", "#f29a9e", "#86aedb"]}, "legend": null}
              }
            }
          ]
        }
      ],
      "columns": 1,
      "spacing": 13,
      "resolve": {"scale": {"color": "independent", "stroke": "independent"}}
    }
  ],
  "spacing": 0,
  "resolve": {"scale": {"color": "independent", "stroke": "independent"}}
}
